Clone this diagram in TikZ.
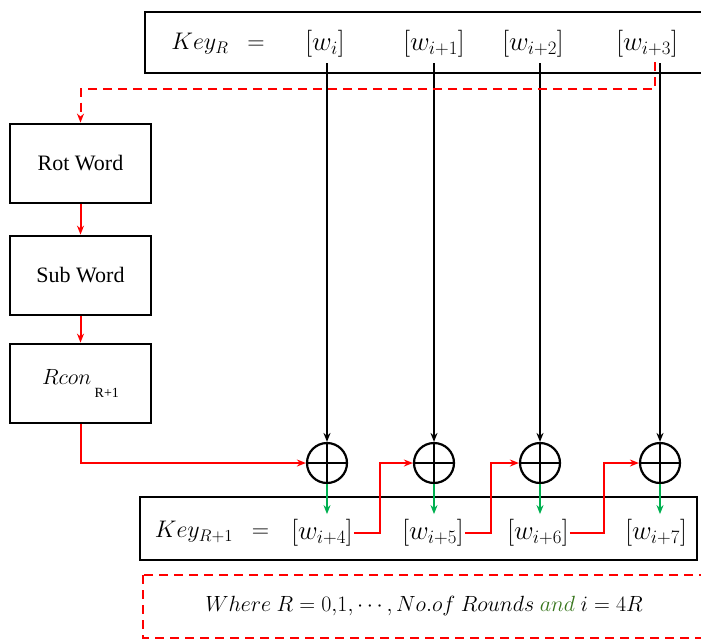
\RequirePackage{fix-cm}
\documentclass[tikz,border=0pt]{standalone}
\usepackage{fontspec}
\setmainfont{Liberation Serif}
\usetikzlibrary{arrows.meta,calc}
\definecolor{kred}{RGB}{255,0,0}
\definecolor{kgreen}{RGB}{0,176,80}
\definecolor{kdgreen}{RGB}{56,118,29}
\begin{document}
\begin{tikzpicture}[x=1pt,y=-1pt,
  frame/.style={draw=black,line width=2.8pt},
  opbox/.style={draw=black,line width=2.8pt,minimum width=141pt,minimum height=79pt,inner sep=0pt,font=\fontsize{22}{26}\selectfont},
  word/.style={inner sep=1pt,font=\fontsize{27}{31}\selectfont},
  keyw/.style={inner sep=1pt,font=\fontsize{24}{28}\selectfont},
  notew/.style={inner sep=1pt,font=\fontsize{22}{26}\selectfont},
  xorn/.style={circle,draw=black,line width=2.2pt,minimum size=40pt,inner sep=0pt,
    path picture={\draw[line width=1.8pt] (path picture bounding box.north) -- (path picture bounding box.south)
      (path picture bounding box.west) -- (path picture bounding box.east);}},
  blk/.style={draw=black,line width=1.8pt,-{Stealth[length=9pt,width=7pt]}},
  redl/.style={draw=kred,line width=2pt,-{Stealth[length=9pt,width=7pt]}},
  grn/.style={draw=kgreen,line width=2pt,-{Stealth[length=9pt,width=7pt]}}
]
\useasboundingbox (0,0) rectangle (701,641);
% top key box
\draw[frame] (145,12) rectangle (715,73);
\node[keyw] (kr) at (218,44) {$Key_R\ \ =$};
\node[word] (wt1) at (325,44) {$[w_i]$};
\node[word] (wt2) at (434,44) {$[w_{i+1}]$};
\node[word] (wt3) at (533,44) {$[w_{i+2}]$};
\node[word] (wt4) at (647,44) {$[w_{i+3}]$};
% left boxes
\node[opbox] (rot) at (80.5,163.5) {Rot Word};
\node[opbox] (sub) at (80.5,275.5) {Sub Word};
\node[opbox] (rcon) at (80.5,383.5) {$Rcon$\raisebox{-13pt}{\fontsize{14}{16}\selectfont\ R+1}};
% xor
\node[xorn] (x1) at (327,463) {};
\node[xorn] (x2) at (434,463) {};
\node[xorn] (x3) at (540,463) {};
\node[xorn] (x4) at (660,463) {};
% bottom key box
\draw[frame] (140,497) rectangle (697,560);
\node[keyw] (kr1) at (212,532) {$Key_{R+1}\ \ =$};
\node[word] (wb1) at (322,533) {$[w_{i+4}]$};
\node[word] (wb2) at (433,533) {$[w_{i+5}]$};
\node[word] (wb3) at (538,533) {$[w_{i+6}]$};
\node[word] (wb4) at (656,533) {$[w_{i+7}]$};
% black arrows
\draw[blk] (x1 |- 0,63) -- (x1.north);
\draw[blk] (x2 |- 0,63) -- (x2.north);
\draw[blk] (x3 |- 0,63) -- (x3.north);
\draw[blk] (x4 |- 0,63) -- (x4.north);
% red dashed from w_{i+3}
\coordinate (ds) at (655,62);
\draw[redl,dash pattern=on 9pt off 6pt] (ds) |- (80.5,89) -- (rot.north);
% red chain
\draw[redl] (rot.south) -- (sub.north);
\draw[redl] (sub.south) -- (rcon.north);
\draw[redl] (rcon.south) |- (x1.west);
\draw[redl] (wb1.east) -- ++(26,0) |- (x2.west);
\draw[redl] (wb2.east) -- ++(26,0) |- (x3.west);
\draw[redl] (wb3.east) -- ++(34,0) |- (x4.west);
% green arrows
\draw[grn] (x1.south) -- ++(0,30);
\draw[grn] (x2.south) -- ++(0,30);
\draw[grn] (x3.south) -- ++(0,30);
\draw[grn] (x4.south) -- ++(0,30);
% note box
\draw[draw=kred,line width=2pt,dash pattern=on 9pt off 6pt] (143,575) rectangle (715,638);
\node[notew] (note) at (424,606) {$Where\ R=0{,}1,\cdots,No.of\ Rounds$ \textcolor{kdgreen}{$and$} $i=4R$};
\end{tikzpicture}
\end{document}
